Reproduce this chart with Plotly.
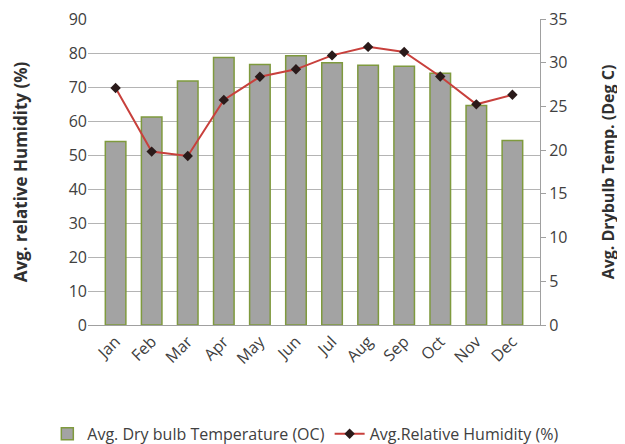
import plotly.graph_objects as go

months = ['Jan', 'Feb', 'Mar', 'Apr', 'May', 'Jun', 'Jul', 'Aug', 'Sep', 'Oct', 'Nov', 'Dec']
temp = [21.0, 23.8, 27.9, 30.6, 29.8, 30.8, 30.0, 29.7, 29.6, 28.8, 25.1, 21.1]       # deg C, right axis
humidity = [69.7, 51.0, 49.7, 66.2, 73.0, 75.2, 79.3, 81.8, 80.3, 73.1, 64.9, 67.7]   # %, left axis

font = 'Open Sans'

fig = go.Figure()
# bars on the main axis (temperature, drawn on the right)
fig.add_trace(go.Bar(x=months, y=temp, yaxis='y', name='Avg. Dry bulb Temperature (OC)',
                     marker=dict(color='#a3a3a3', line=dict(color='#7f9a3e', width=1.5))))
# humidity line on the overlaying left axis, so it sits above the bars
fig.add_trace(go.Scatter(x=months, y=humidity, yaxis='y2', mode='lines+markers',
                         name='Avg.Relative Humidity (%)',
                         line=dict(color='#c8403c', width=2),
                         marker=dict(symbol='diamond', size=8, color='#2a1a1a')))

# page body has an 8px margin, so the figure is shifted by 8px
fig.update_layout(
    width=617, height=436,
    margin=dict(l=80, r=85, t=11, b=119, autoexpand=False),
    plot_bgcolor='white', paper_bgcolor='white',
    font=dict(family=font, size=15, color='#404040'),
    bargap=0.43,
    showlegend=True,
    legend=dict(orientation='h', x=-0.09, xanchor='left', y=-0.30, yanchor='top',
                font=dict(size=16, color='#404040'), traceorder='normal',
                itemwidth=30, tracegroupgap=0),
    xaxis=dict(tickangle=-45, showline=True, linecolor='#a0a0a0', linewidth=1,
               showgrid=False, ticks='', tickfont=dict(size=16)),
    yaxis=dict(range=[0, 35], dtick=5, side='right', showgrid=False,
               zeroline=False, showline=True, linecolor='#a0a0a0', linewidth=1,
               ticks='outside', ticklen=5, tickcolor='#a0a0a0', tickfont=dict(size=16),
               ticklabeloverflow='allow',
               title=dict(text='<b>Avg. Drybulb Temp. (Deg C)</b>', font=dict(size=16, color='#303030'),
                          standoff=36)),
    yaxis2=dict(range=[0, 90], dtick=10, overlaying='y', side='left',
                showgrid=True, gridcolor='#b4b4b4', gridwidth=1,
                zeroline=False, showline=False, ticks='', tickfont=dict(size=16),
                ticklabeloverflow='allow',
                title=dict(text='<b>Avg. relative Humidity (%)</b>', font=dict(size=17, color='#303030'),
                           standoff=36)),
)

fig.write_html('out.html')
